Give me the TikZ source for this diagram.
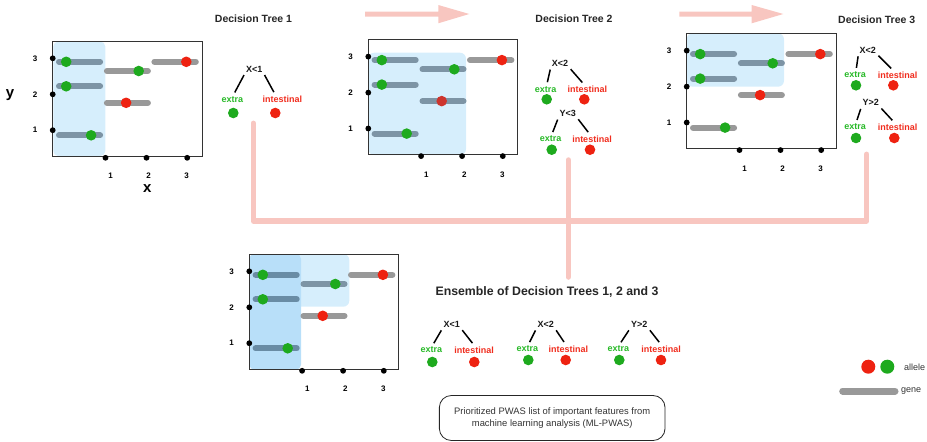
\documentclass[tikz,border=0pt]{standalone}
\usepackage{fontspec}
\setmainfont{Liberation Sans}
\definecolor{gr}{RGB}{30,170,30}
\definecolor{rd}{RGB}{238,34,17}
\definecolor{rdd}{RGB}{205,52,45}
\definecolor{exg}{RGB}{40,185,40}
\definecolor{inr}{RGB}{240,45,30}
\definecolor{barg}{RGB}{153,153,153}
\definecolor{barb}{RGB}{125,148,165}
\definecolor{barbb}{RGB}{105,140,165}
\definecolor{lblue}{RGB}{214,238,252}
\definecolor{mblue}{RGB}{184,223,249}
\definecolor{pinkc}{RGB}{248,198,192}
\tikzset{
 split/.style={font=\fontsize{9}{10}\selectfont\bfseries, inner sep=1pt, text=black!90},
 lab/.style={font=\fontsize{9}{10}\selectfont\bfseries, inner sep=1pt},
 gdot/.style={circle, fill=gr, minimum size=10.6pt, inner sep=0pt},
 rdot/.style={circle, fill=rd, minimum size=10.6pt, inner sep=0pt},
 branch/.style={line width=1.5pt, shorten >=3pt, shorten <=2pt},
 title/.style={font=\fontsize{10.5}{12}\selectfont\bfseries, text=black!85},
 axnum/.style={font=\fontsize{8}{9}\selectfont\bfseries},
 axdot/.style={circle, fill=black, minimum size=5.8pt, inner sep=0pt},
 gene/.style={line width=6pt, line cap=round},
 pinkline/.style={line width=5.5pt, draw=pinkc, line cap=round, line join=round},
 bigarrow/.style={fill=pinkc},
 legtext/.style={anchor=west, inner sep=0pt, font=\fontsize{9}{10}\selectfont, text=black!80},
}
% panel: #1 prefix, #2 x, #3 y, #4 c3a, #5 c3b, #6 c2a, #7 c2b, #8 c1, #9 red 2b
\newcommand\mypanel[9]{%
\begin{scope}[shift={(#2,#3)}]
 \draw[line width=0.9pt, black!80] (0,0) rectangle (149.5,115.5);
 \draw[gene,#4] (6.3,20.8) -- (47.4,20.8);
 \draw[gene,#5] (54.2,30) -- (95.2,30);
 \draw[gene,barg] (101.7,20.8) -- (143.1,20.8);
 \draw[gene,#6] (6.3,45.3) -- (47.4,45.3);
 \draw[gene,#7] (54.2,61.8) -- (95.2,61.8);
 \draw[gene,#8] (6.3,94.3) -- (47.4,94.3);
 \node[gdot] (#1ga) at (13.5,20.8) {};
 \node[gdot] (#1gb) at (86,30) {};
 \node[rdot] (#1rc) at (133.6,20.8) {};
 \node[gdot] (#1gd) at (13.5,45.3) {};
 \node[rdot, fill=#9] (#1re) at (73.4,61.8) {};
 \node[gdot] (#1gf) at (38.4,94.3) {};
 \node[axdot] (#1ya) at (0,17.3) {};
 \node[axdot] (#1yb) at (0,53.3) {};
 \node[axdot] (#1yc) at (0,89.2) {};
 \node[axnum] (#1yla) at (-17.6,17.3) {3};
 \node[axnum] (#1ylb) at (-17.6,53.3) {2};
 \node[axnum] (#1ylc) at (-17.6,89.2) {1};
 \node[axdot] (#1xa) at (52.8,116.8) {};
 \node[axdot] (#1xb) at (93.8,116.8) {};
 \node[axdot] (#1xc) at (134.5,116.8) {};
 \node[axnum] (#1xla) at (58,135) {1};
 \node[axnum] (#1xlb) at (96,135) {2};
 \node[axnum] (#1xlc) at (134,135) {3};
\end{scope}}
% tree: #1 prefix, #2 sx, #3 sy, #4 label, #5 gx, #6 rx, #7 intestinal x, #8 label y, #9 dot y
\newcommand\dtree[9]{%
 \node[split] (#1s) at (#2,#3) {#4};
 \node[lab,text=exg] (#1e) at (#5-1,#8) {extra};
 \node[lab,text=inr] (#1i) at (#7,#8) {intestinal};
 \node[gdot] (#1g) at (#5,#9) {};
 \node[rdot] (#1r) at (#6,#9) {};
 \draw[branch] (#1s.south west) -- (#1e.north -| #1g);
 \draw[branch] (#1s.south east) -- (#1i.north -| #1r);
}
\begin{document}
\begin{tikzpicture}[x=1pt,y=-1pt]
\useasboundingbox (0,0) rectangle (927,442);

% pink connectors
\coordinate (p1a) at (253.3,123.3);
\coordinate (pc) at (866.7,221);
\coordinate (p3a) at (866.7,154.3);
\coordinate (p2a) at (568.3,160);
\coordinate (p2b) at (568.3,277);
\draw[pinkline] (p1a) |- (pc) -- (p3a);
\draw[pinkline] (p2a) -- (p2b);

% top arrows
\fill[bigarrow] (365,11.5) -- (438.3,11.5) -- (438.3,5) -- (469.3,14) -- (438.3,23.3) -- (438.3,16.5) -- (365,16.5) -- cycle;
\fill[bigarrow] (679.3,11.5) -- (751.7,11.5) -- (751.7,5) -- (783.3,14) -- (751.7,23.3) -- (751.7,16.5) -- (679.3,16.5) -- cycle;

% titles
\node[title] (tt1) at (253.5,18.3) {Decision Tree 1};
\node[title] (tt2) at (574,18.3) {Decision Tree 2};
\node[title] (tt3) at (876.7,19.3) {Decision Tree 3};
\node[title, font=\fontsize{12.3}{14}\selectfont\bfseries] (tte) at (547,291.7) {Ensemble of Decision Trees 1, 2 and 3};

% blue regions
\fill[lblue, rounded corners=5pt] (53.3,41.5) rectangle (105.3,156);
\fill[lblue, rounded corners=6pt] (368.3,52.7) rectangle (466,155);
\fill[lblue, rounded corners=6pt] (686.7,33.3) rectangle (784,86.7);
\fill[lblue, rounded corners=6pt] (249.3,254) rectangle (349.3,306.7);
\fill[mblue, rounded corners=5pt] (249.3,254) rectangle (301,369.7);

% panels
\mypanel{pa}{52.7}{41}{barb}{barg}{barb}{barg}{barb}{rd}
\mypanel{pb}{368.3}{39.3}{barb}{barb}{barb}{barb}{barb}{rdd}
\mypanel{pc}{686.7}{33.3}{barb}{barb}{barb}{barg}{barg}{rd}
\mypanel{pd}{249.3}{254}{barbb}{barb}{barbb}{barg}{barbb}{rd}

\node[font=\fontsize{15}{16}\selectfont\bfseries] (ylab) at (10,95) {y};
\node[font=\fontsize{15}{16}\selectfont\bfseries] (xlab) at (147.3,189) {x};

% trees
\dtree{ta}{254.3}{69}{X<1}{233.3}{275.3}{282.3}{99.3}{113}
\dtree{tb}{560}{63.3}{X<2}{546.7}{584.3}{587.3}{89.3}{99.3}
\dtree{tc}{567.7}{113.3}{Y<3}{551.7}{590}{592}{139}{149.7}
\dtree{td}{867.7}{50}{X<2}{856}{893.3}{897.7}{75}{85.3}
\dtree{te}{870.7}{102.7}{Y>2}{856}{894.3}{897.7}{127}{138}
\dtree{tf}{451.7}{324.3}{X<1}{432.3}{474.3}{474}{350}{362}
\dtree{tg}{545.7}{324.3}{X<2}{528.3}{565.7}{568.3}{349}{360}
\dtree{th}{639.3}{324.3}{Y>2}{619.3}{661}{661}{349}{360}

% output box
\node[draw=black!85, line width=0.8pt, rounded corners=12pt, minimum width=225.7pt, minimum height=45pt, align=center, font=\fontsize{9.4}{11.7}\selectfont, text=black!80] (out) at (552.2,418) {Prioritized PWAS list of important features from\\machine learning analysis (ML-PWAS)};

% legend
\node[rdot, minimum size=14pt] (lr) at (868.3,366.7) {};
\node[gdot, minimum size=14pt] (lg) at (887.3,366.7) {};
\node[legtext] (lal) at (904,367.5) {allele};
\draw[gene, line width=7pt, barg] (842.7,391) -- (895,391);
\node[legtext] (lgn) at (901,391.5) {gene};
\end{tikzpicture}
\end{document}
